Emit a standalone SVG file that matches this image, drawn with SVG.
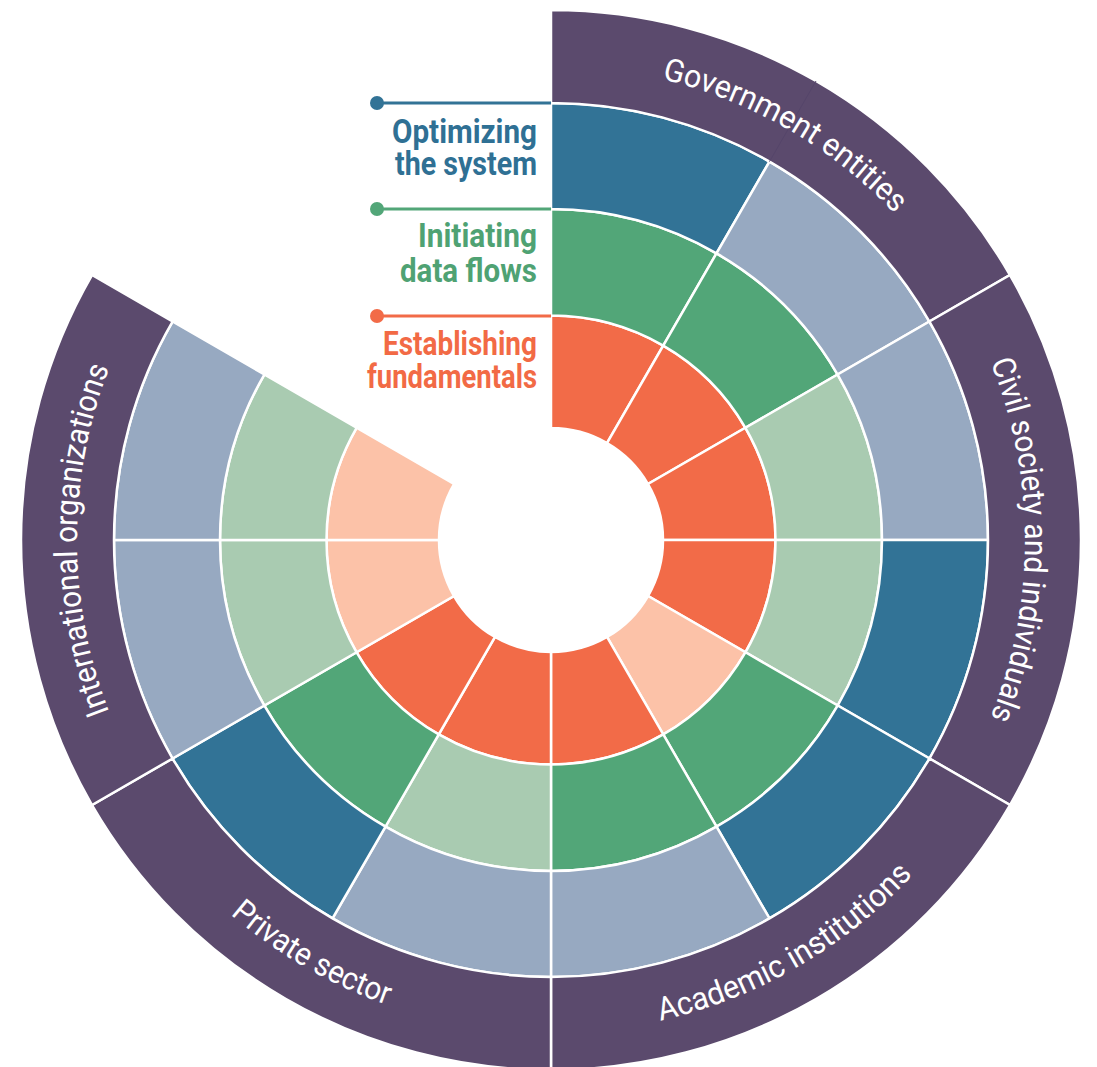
<svg xmlns="http://www.w3.org/2000/svg" width="1097" height="1067" viewBox="0 0 1097 1067">
<style>
.seg{stroke:#fff;stroke-width:2.5;stroke-linejoin:miter}
.o1{fill:#F26B48}.o2{fill:#FCC2A8}
.g1{fill:#52A678}.g2{fill:#A9CBB1}
.b1{fill:#327396}.b2{fill:#97A9C1}
.pu{fill:#5B4A6D;stroke:#fff;stroke-width:2.5}
.arc{font-family:Roboto,"Liberation Sans",sans-serif;font-size:32px;fill:#fff}
.lab{font-family:Roboto,"Liberation Sans",sans-serif;font-size:34px;font-weight:bold}
</style>
<defs>
<path id="pGov" d="M 551 66 A 474 474 0 0 1 961.496 303"/>
<path id="pCiv" d="M 961.496 303 A 474 474 0 0 1 961.496 777"/>
<path id="pInt" d="M 140.504 777 A 474 474 0 0 1 140.504 303"/>
<path id="pAca" d="M 551 1033 A 493 493 0 0 0 977.95 786.5"/>
<path id="pPri" d="M 124.05 786.5 A 493 493 0 0 0 551 1033"/>
</defs>

<g id="ring-establishing-fundamentals">
<path class="seg o1" d="M551 315.5A224.5 224.5 0 0 1 663.25 345.577L607 443.004A112 112 0 0 0 551 428Z"/>
<path class="seg o1" d="M663.25 345.577A224.5 224.5 0 0 1 745.423 427.75L647.995 484A112 112 0 0 0 607 443.004Z"/>
<path class="seg o1" d="M745.423 427.75A224.5 224.5 0 0 1 775.5 540L663 540A112 112 0 0 0 647.995 484Z"/>
<path class="seg o1" d="M775.5 540A224.5 224.5 0 0 1 745.423 652.25L647.995 596A112 112 0 0 0 663 540Z"/>
<path class="seg o2" d="M745.423 652.25A224.5 224.5 0 0 1 663.25 734.423L607 636.996A112 112 0 0 0 647.995 596Z"/>
<path class="seg o1" d="M663.25 734.423A224.5 224.5 0 0 1 551 764.5L551 652A112 112 0 0 0 607 636.996Z"/>
<path class="seg o1" d="M551 764.5A224.5 224.5 0 0 1 438.75 734.423L495 636.996A112 112 0 0 0 551 652Z"/>
<path class="seg o1" d="M438.75 734.423A224.5 224.5 0 0 1 356.577 652.25L454.005 596A112 112 0 0 0 495 636.996Z"/>
<path class="seg o2" d="M356.577 652.25A224.5 224.5 0 0 1 326.5 540L439 540A112 112 0 0 0 454.005 596Z"/>
<path class="seg o2" d="M326.5 540A224.5 224.5 0 0 1 356.577 427.75L454.005 484A112 112 0 0 0 439 540Z"/>
</g>

<g id="ring-initiating-data-flows">
<path class="seg g1" d="M551 209A331 331 0 0 1 716.5 253.346L663.25 345.577A224.5 224.5 0 0 0 551 315.5Z"/>
<path class="seg g1" d="M716.5 253.346A331 331 0 0 1 837.654 374.5L745.423 427.75A224.5 224.5 0 0 0 663.25 345.577Z"/>
<path class="seg g2" d="M837.654 374.5A331 331 0 0 1 882 540L775.5 540A224.5 224.5 0 0 0 745.423 427.75Z"/>
<path class="seg g2" d="M882 540A331 331 0 0 1 837.654 705.5L745.423 652.25A224.5 224.5 0 0 0 775.5 540Z"/>
<path class="seg g1" d="M837.654 705.5A331 331 0 0 1 716.5 826.654L663.25 734.423A224.5 224.5 0 0 0 745.423 652.25Z"/>
<path class="seg g1" d="M716.5 826.654A331 331 0 0 1 551 871L551 764.5A224.5 224.5 0 0 0 663.25 734.423Z"/>
<path class="seg g2" d="M551 871A331 331 0 0 1 385.5 826.654L438.75 734.423A224.5 224.5 0 0 0 551 764.5Z"/>
<path class="seg g1" d="M385.5 826.654A331 331 0 0 1 264.346 705.5L356.577 652.25A224.5 224.5 0 0 0 438.75 734.423Z"/>
<path class="seg g2" d="M264.346 705.5A331 331 0 0 1 220 540L326.5 540A224.5 224.5 0 0 0 356.577 652.25Z"/>
<path class="seg g2" d="M220 540A331 331 0 0 1 264.346 374.5L356.577 427.75A224.5 224.5 0 0 0 326.5 540Z"/>
</g>

<g id="ring-optimizing-the-system">
<path class="seg b1" d="M551 103A437 437 0 0 1 769.5 161.547L716.5 253.346A331 331 0 0 0 551 209Z"/>
<path class="seg b2" d="M769.5 161.547A437 437 0 0 1 929.453 321.5L837.654 374.5A331 331 0 0 0 716.5 253.346Z"/>
<path class="seg b2" d="M929.453 321.5A437 437 0 0 1 988 540L882 540A331 331 0 0 0 837.654 374.5Z"/>
<path class="seg b1" d="M988 540A437 437 0 0 1 929.453 758.5L837.654 705.5A331 331 0 0 0 882 540Z"/>
<path class="seg b1" d="M929.453 758.5A437 437 0 0 1 769.5 918.453L716.5 826.654A331 331 0 0 0 837.654 705.5Z"/>
<path class="seg b2" d="M769.5 918.453A437 437 0 0 1 551 977L551 871A331 331 0 0 0 716.5 826.654Z"/>
<path class="seg b2" d="M551 977A437 437 0 0 1 332.5 918.453L385.5 826.654A331 331 0 0 0 551 871Z"/>
<path class="seg b1" d="M332.5 918.453A437 437 0 0 1 172.547 758.5L264.346 705.5A331 331 0 0 0 385.5 826.654Z"/>
<path class="seg b2" d="M172.547 758.5A437 437 0 0 1 114 540L220 540A331 331 0 0 0 264.346 705.5Z"/>
<path class="seg b2" d="M114 540A437 437 0 0 1 172.547 321.5L264.346 374.5A331 331 0 0 0 220 540Z"/>
</g>

<g id="sector-government-entities">
<path class="pu" d="M551 10A530 530 0 0 1 1009.993 275L929.453 321.5A437 437 0 0 0 551 103Z"/>
<line x1="769.5" y1="161.547" x2="816" y2="80.997" stroke="#55456A" stroke-width="1"/>
<text class="arc"><textPath href="#pGov" startOffset="50%" text-anchor="middle" textLength="273" lengthAdjust="spacingAndGlyphs">Government entities</textPath></text>
</g>
<g id="sector-civil-society">
<path class="pu" d="M1009.993 275A530 530 0 0 1 1009.993 805L929.453 758.5A437 437 0 0 0 929.453 321.5Z"/>
<text class="arc"><textPath href="#pCiv" startOffset="50%" text-anchor="middle" textLength="364" lengthAdjust="spacingAndGlyphs">Civil society and individuals</textPath></text>
</g>
<g id="sector-academic-institutions">
<path class="pu" d="M1009.993 805A530 530 0 0 1 551 1070L551 977A437 437 0 0 0 929.453 758.5Z"/>
<text class="arc"><textPath href="#pAca" startOffset="50%" text-anchor="middle" textLength="296" lengthAdjust="spacingAndGlyphs">Academic institutions</textPath></text>
</g>
<g id="sector-private-sector">
<path class="pu" d="M551 1070A530 530 0 0 1 92.007 805L172.547 758.5A437 437 0 0 0 551 977Z"/>
<text class="arc"><textPath href="#pPri" startOffset="50%" text-anchor="middle" textLength="182" lengthAdjust="spacingAndGlyphs">Private sector</textPath></text>
</g>
<g id="sector-international-organizations">
<path class="pu" d="M92.007 805A530 530 0 0 1 92.007 275L172.547 321.5A437 437 0 0 0 172.547 758.5Z"/>
<text class="arc"><textPath href="#pInt" startOffset="50%" text-anchor="middle" textLength="352" lengthAdjust="spacingAndGlyphs">International organizations</textPath></text>
</g>

<g id="connectors">
<line x1="377" y1="103" x2="551" y2="103" stroke="#327396" stroke-width="3"/>
<circle cx="377" cy="103" r="7" fill="#327396"/>
<line x1="377" y1="209" x2="551" y2="209" stroke="#52A678" stroke-width="3"/>
<circle cx="377" cy="209" r="7" fill="#52A678"/>
<line x1="377" y1="316" x2="551" y2="316" stroke="#F26B48" stroke-width="3"/>
<circle cx="377" cy="316" r="7" fill="#F26B48"/>
</g>

<g id="label-optimizing">
<text class="lab" fill="#2F7094"><tspan x="392" y="143" textLength="145" lengthAdjust="spacingAndGlyphs">Optimizing</tspan><tspan x="395" y="175" textLength="142" lengthAdjust="spacingAndGlyphs">the system</tspan></text>
</g>
<g id="label-initiating">
<text class="lab" fill="#4FA273"><tspan x="418" y="247" textLength="119" lengthAdjust="spacingAndGlyphs">Initiating</tspan><tspan x="400" y="282" textLength="137" lengthAdjust="spacingAndGlyphs">data flows</tspan></text>
</g>
<g id="label-establishing">
<text class="lab" fill="#F26A45"><tspan x="383" y="355" textLength="154" lengthAdjust="spacingAndGlyphs">Establishing</tspan><tspan x="367" y="388" textLength="170" lengthAdjust="spacingAndGlyphs">fundamentals</tspan></text>
</g>
</svg>
